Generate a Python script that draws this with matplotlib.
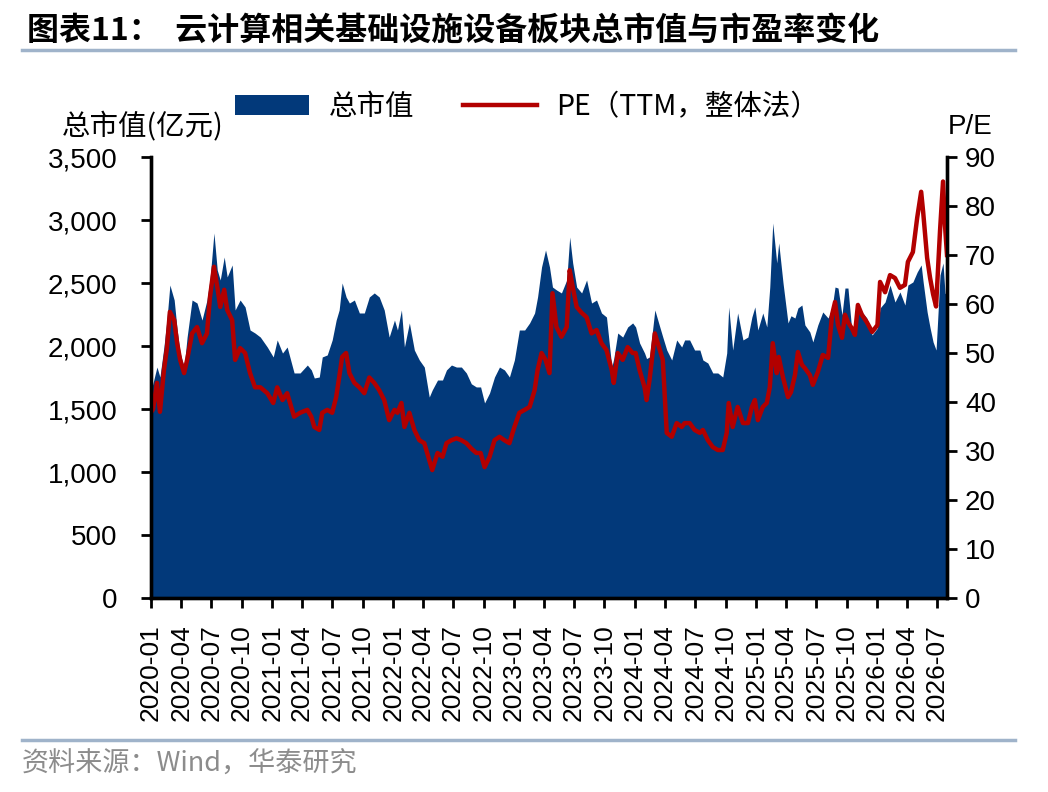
import matplotlib
matplotlib.use("Agg")
import matplotlib.pyplot as plt
import matplotlib.dates as mdates
from matplotlib.lines import Line2D
from matplotlib.ticker import FuncFormatter
import pandas as pd

plt.rcParams['font.family'] = ['Liberation Sans', 'Noto Sans CJK SC', 'DejaVu Sans']
CJK = ['Noto Sans CJK SC', 'Liberation Sans', 'DejaVu Sans']

dates = ["2020-01-02", "2020-01-07", "2020-01-19", "2020-01-28", "2020-02-09", "2020-02-18", "2020-02-27",
         "2020-03-11", "2020-03-20", "2020-03-29", "2020-04-10", "2020-04-19", "2020-05-04", "2020-05-19",
         "2020-06-03", "2020-06-18", "2020-06-27", "2020-07-09", "2020-07-19", "2020-07-28", "2020-08-09",
         "2020-08-18", "2020-09-02", "2020-09-11", "2020-09-26", "2020-10-11", "2020-10-26", "2020-11-10",
         "2020-11-26", "2020-12-17", "2021-01-04", "2021-01-16", "2021-02-01", "2021-02-15", "2021-03-08",
         "2021-03-26", "2021-04-17", "2021-04-29", "2021-05-08", "2021-05-23", "2021-06-01", "2021-06-16",
         "2021-07-01", "2021-07-13", "2021-07-22", "2021-07-31", "2021-08-12", "2021-08-22", "2021-09-06",
         "2021-09-21", "2021-10-06", "2021-10-21", "2021-11-05", "2021-11-20", "2021-12-05", "2021-12-20",
         "2022-01-05", "2022-01-14", "2022-01-26", "2022-02-04", "2022-02-19", "2022-03-06", "2022-03-21",
         "2022-04-05", "2022-04-20", "2022-04-29", "2022-05-15", "2022-05-30", "2022-06-11", "2022-06-26",
         "2022-07-11", "2022-07-26", "2022-08-10", "2022-08-25", "2022-09-09", "2022-09-22", "2022-10-04",
         "2022-10-19", "2022-11-03", "2022-11-18", "2022-12-03", "2022-12-18", "2023-01-02", "2023-01-17",
         "2023-02-02", "2023-02-17", "2023-03-04", "2023-03-13", "2023-03-25", "2023-04-06", "2023-04-18",
         "2023-04-27", "2023-05-09", "2023-05-24", "2023-06-09", "2023-06-18", "2023-06-27", "2023-07-09",
         "2023-07-24", "2023-08-08", "2023-08-23", "2023-09-07", "2023-09-22", "2023-10-07", "2023-10-23",
         "2023-10-29", "2023-11-10", "2023-11-25", "2023-12-10", "2023-12-25", "2024-01-03", "2024-01-15",
         "2024-01-30", "2024-02-05", "2024-02-14", "2024-03-01", "2024-03-16", "2024-03-25", "2024-04-06",
         "2024-04-21", "2024-05-06", "2024-05-21", "2024-05-30", "2024-06-14", "2024-06-29", "2024-07-15",
         "2024-07-24", "2024-08-08", "2024-08-23", "2024-09-07", "2024-09-22", "2024-10-04", "2024-10-10",
         "2024-10-22", "2024-11-06", "2024-11-22", "2024-12-07", "2024-12-19", "2024-12-28", "2025-01-06",
         "2025-01-21", "2025-02-02", "2025-02-11", "2025-02-20", "2025-03-04", "2025-03-10", "2025-03-23",
         "2025-04-07", "2025-04-16", "2025-04-28", "2025-05-07", "2025-05-19", "2025-05-28", "2025-06-12",
         "2025-06-21", "2025-07-06", "2025-07-21", "2025-08-06", "2025-08-18", "2025-08-27", "2025-09-05",
         "2025-09-17", "2025-09-26", "2025-10-05", "2025-10-17", "2025-10-26", "2025-11-04", "2025-11-16",
         "2025-12-01", "2025-12-17", "2026-01-02", "2026-01-10", "2026-01-25", "2026-02-09", "2026-02-24",
         "2026-03-11", "2026-03-26", "2026-04-04", "2026-04-19", "2026-05-02", "2026-05-14", "2026-05-20",
         "2026-06-01", "2026-06-10", "2026-06-19", "2026-06-28", "2026-07-10", "2026-07-19", "2026-07-25",
         "2026-07-31"]

market_cap = [1650, 1706, 1833, 1754, 1992, 2206, 2484,
              2365, 2127, 1944, 1833, 2071, 2365, 2341,
              2206, 2365, 2524, 2897, 2603, 2524, 2706,
              2548, 2643, 2286, 2365, 2310, 2127, 2103,
              2071, 1992, 1913, 2048, 1944, 1992, 1786,
              1786, 1849, 1810, 1746, 1754, 1913, 1929,
              2048, 2206, 2286, 2500, 2389, 2341, 2365,
              2262, 2262, 2389, 2421, 2389, 2286, 2071,
              2206, 2127, 2286, 1992, 2183, 1968, 1889,
              1833, 1595, 1651, 1730, 1730, 1810, 1849,
              1833, 1833, 1786, 1700, 1675, 1675, 1548,
              1627, 1754, 1833, 1810, 1754, 1889, 2127,
              2127, 2183, 2262, 2389, 2627, 2762, 2627,
              2468, 2445, 2421, 2524, 2865, 2659, 2468,
              2421, 2524, 2341, 2365, 2262, 2230, 1833,
              1900, 2103, 2071, 2151, 2183, 2151, 2024,
              1944, 1900, 1913, 2286, 2151, 2071, 1968,
              1889, 2048, 1992, 2048, 2048, 1968, 1968,
              1889, 1865, 1786, 1786, 1754, 1944, 2310,
              1968, 2262, 2048, 2071, 2230, 2310, 2127,
              2262, 2151, 2468, 2976, 2659, 2818, 2500,
              2183, 2240, 2222, 2302, 2325, 2167, 2111,
              2032, 2167, 2270, 2222, 2302, 2468, 2460,
              2246, 2460, 2460, 2111, 2190, 2349, 2270,
              2222, 2087, 2143, 2302, 2349, 2484, 2349,
              2429, 2325, 2484, 2508, 2587, 2643, 2508,
              2270, 2143, 2032, 1968, 2564, 2659, 2420,
              2400]

pe_ttm = [38.0, 38.5, 43.9, 38.0, 46.5, 51.0, 58.4,
          56.7, 52.0, 48.6, 45.9, 48.6, 54.0, 55.3,
          52.0, 54.0, 61.4, 67.6, 63.5, 59.4, 62.9,
          58.8, 56.7, 48.6, 51.0, 50.0, 45.9, 43.0,
          43.0, 41.8, 39.8, 43.0, 40.4, 41.8, 37.0,
          37.8, 38.4, 37.0, 34.9, 34.3, 37.8, 38.4,
          37.8, 41.0, 45.0, 49.2, 50.0, 45.9, 43.9,
          43.0, 41.8, 45.0, 43.9, 42.4, 40.4, 36.3,
          38.4, 37.8, 39.8, 34.9, 37.8, 34.3, 32.2,
          31.6, 28.2, 26.1, 29.6, 28.8, 31.6, 32.2,
          32.6, 32.2, 31.6, 30.5, 29.6, 29.6, 26.7,
          28.8, 32.2, 32.9, 32.2, 31.6, 34.9, 37.8,
          38.4, 39.0, 42.4, 46.5, 50.0, 48.6, 45.9,
          62.2, 55.3, 53.3, 55.3, 66.9, 63.5, 59.4,
          58.2, 57.3, 54.0, 54.7, 52.0, 50.6, 46.5,
          43.9, 50.0, 48.6, 51.2, 50.0, 50.0, 46.5,
          43.0, 40.4, 44.5, 54.0, 50.6, 48.6, 33.7,
          32.9, 35.7, 34.9, 35.7, 35.7, 34.3, 33.7,
          34.3, 32.2, 30.8, 30.2, 30.2, 33.7, 39.8,
          34.9, 39.0, 35.7, 35.7, 39.0, 40.4, 36.3,
          39.0, 39.8, 43.0, 52.0, 45.9, 49.2, 45.0,
          41.0, 42.0, 45.5, 50.2, 47.6, 46.9, 45.5,
          43.5, 46.1, 49.6, 49.0, 57.8, 60.4, 55.7,
          53.1, 57.8, 56.3, 55.0, 53.7, 59.8, 57.8,
          56.3, 54.3, 55.7, 64.5, 62.4, 65.9, 65.3,
          63.3, 63.9, 68.6, 70.6, 77.6, 82.9, 78.8,
          69.4, 65.3, 62.0, 59.5, 75.0, 85.0, 76.0,
          70.0]

left_ticks = [0, 500, 1000, 1500, 2000, 2500, 3000, 3500]
right_ticks = [0, 10, 20, 30, 40, 50, 60, 70, 80, 90]

title = "图表11：  云计算相关基础设施设备板块总市值与市盈率变化"
mc_label = "总市值"
pe_label = "PE（TTM，整体法）"
left_axis_label = "总市值(亿元)"
right_axis_label = "P/E"
source = "资料来源：Wind，华泰研究"

BLUE = '#02397A'
RED = '#B20000'
RULE = '#9FB3CA'

x = pd.to_datetime(dates)

fig = plt.figure(figsize=(10.48, 7.92), dpi=100)
ax = fig.add_axes([151 / 1048, 1 - 598 / 792, (947 - 151) / 1048, (598 - 157) / 792])
ax2 = ax.twinx()

area = ax.fill_between(x, market_cap, 0, color=BLUE, lw=0, label=mc_label)
line, = ax2.plot(x, pe_ttm, color=RED, lw=3.2, label=pe_label)

ax.set_xlim(pd.Timestamp("2020-01-01"), x[-1])
ax.set_ylim(0, 3500)
ax2.set_ylim(0, 90)
ax.set_yticks(left_ticks)
ax2.set_yticks(right_ticks)
ax.yaxis.set_major_formatter(FuncFormatter(lambda v, p: f"{v:,.0f}"))

ax.xaxis.set_major_locator(mdates.MonthLocator(bymonth=[1, 4, 7, 10]))
ax.xaxis.set_major_formatter(mdates.DateFormatter('%Y-%m'))

for a in (ax, ax2):
    a.spines['top'].set_visible(False)
    for s in ('left', 'right', 'bottom'):
        a.spines[s].set_linewidth(2.4)
        a.spines[s].set_color('black')

ax.tick_params(axis='y', direction='out', length=7, width=2, pad=17, labelsize=20)
ax2.tick_params(axis='y', direction='out', length=7, width=2, pad=6, labelsize=20)
ax.tick_params(axis='x', which='major', direction='out', length=7, width=2, pad=12,
               labelsize=19, labelrotation=90)
for lab in ax.get_xticklabels():
    lab.set_verticalalignment('top')

fig.legend(handles=[area, line], labels=[mc_label, pe_label], loc='center',
           bbox_to_anchor=(527 / 1048, 1 - 107 / 792), ncol=2, frameon=False,
           prop={'family': CJK, 'size': 20.5}, handlelength=2.6, handleheight=0.65,
           handletextpad=0.7, columnspacing=1.7)

fig.text(27 / 1048, 1 - 31 / 792, title, fontsize=23, weight='bold', family=CJK,
         va='center', ha='left')
fig.add_artist(Line2D([22 / 1048, 1015 / 1048], [1 - 50 / 792] * 2, color=RULE, lw=2.5))
fig.add_artist(Line2D([22 / 1048, 1015 / 1048], [1 - 740 / 792] * 2, color=RULE, lw=2.5))
fig.text(62 / 1048, 1 - 127 / 792, left_axis_label, fontsize=20.5, family=CJK,
         va='center', ha='left')
fig.text(948 / 1048, 1 - 127 / 792, right_axis_label, fontsize=20, va='center', ha='left')
fig.text(22 / 1048, 1 - 764 / 792, source, fontsize=19.5, family=CJK, color='#8C8C8C',
         va='center', ha='left')

fig.savefig("out.png", dpi=100)
